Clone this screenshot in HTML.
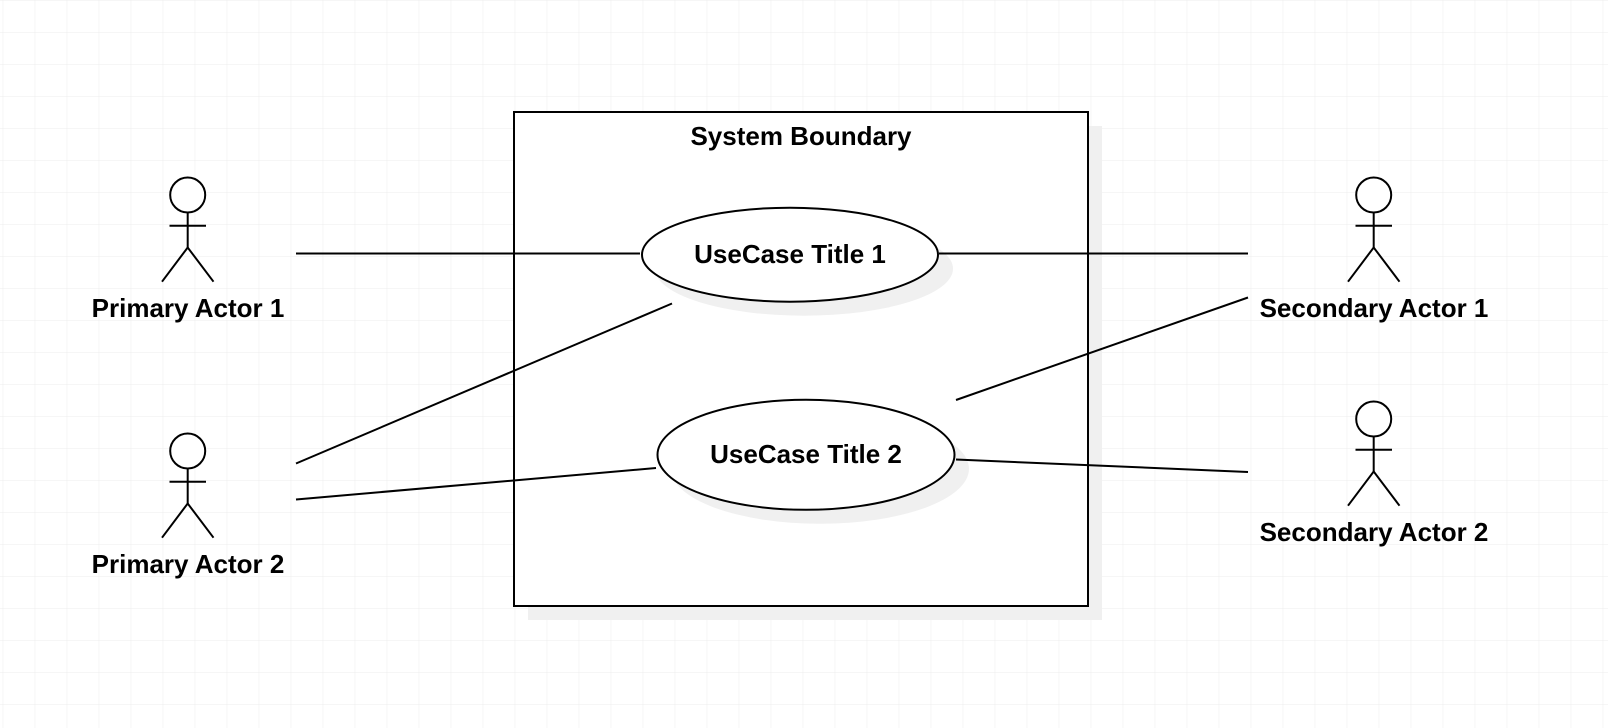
<!DOCTYPE html>
<html><head><meta charset="utf-8"><style>
html,body{margin:0;padding:0;background:#fff;}
svg{display:block;}
text{font-family:"Liberation Sans",Arial,sans-serif;font-weight:bold;font-size:26px;fill:#000;}
</style></head><body>
<svg width="1608" height="728" viewBox="0 0 1608 728" xmlns="http://www.w3.org/2000/svg">
<defs>
<pattern id="g" width="32" height="32" patternUnits="userSpaceOnUse" x="2.7" y="0.3">
<path d="M0 0H32M0 0V32" stroke="#ececec" stroke-width="1" fill="none"/>
</pattern>
</defs>
<rect width="1608" height="728" fill="url(#g)"/>
<!-- system boundary -->
<rect x="528" y="126" width="574" height="494" fill="#f0f0f0"/>
<rect x="514" y="112" width="574" height="494" fill="#fff" stroke="#000" stroke-width="2"/>
<text x="801" y="145" text-anchor="middle">System Boundary</text>
<!-- shadows -->
<ellipse cx="804" cy="268.7" rx="149" ry="47" fill="#f0f0f0"/>
<ellipse cx="820" cy="468.8" rx="149" ry="55" fill="#f0f0f0"/>
<!-- lines -->
<g stroke="#000" stroke-width="2" fill="none">
<line x1="296" y1="253.5" x2="640" y2="253.5"/>
<line x1="939" y1="253.5" x2="1248" y2="253.5"/>
<line x1="296" y1="463.5" x2="672" y2="303.5"/>
<line x1="296" y1="499.5" x2="656" y2="468"/>
<line x1="956" y1="400" x2="1248" y2="297.5"/>
<line x1="956" y1="459.5" x2="1248" y2="472"/>
</g>
<!-- ellipses -->
<ellipse cx="790" cy="254.7" rx="148" ry="47" fill="#fff" stroke="#000" stroke-width="2"/>
<text x="790" y="263" text-anchor="middle">UseCase Title 1</text>
<ellipse cx="806" cy="454.8" rx="148.5" ry="55" fill="#fff" stroke="#000" stroke-width="2"/>
<text x="806" y="463" text-anchor="middle">UseCase Title 2</text>
<!-- actors -->
<g id="a1" stroke="#000" stroke-width="2" fill="#fff">
<ellipse cx="187.7" cy="195" rx="17.5" ry="17.5"/>
<line x1="187.7" y1="212.5" x2="187.7" y2="247.5"/>
<line x1="169.5" y1="225.7" x2="206" y2="225.7"/>
<polyline points="162,281.7 187.7,247.5 213.5,281.7" fill="none"/>
</g>
<text x="188" y="317" text-anchor="middle">Primary Actor 1</text>
<use href="#a1" transform="translate(0,256)"/>
<text x="188" y="573" text-anchor="middle">Primary Actor 2</text>
<use href="#a1" transform="translate(1186,0)"/>
<text x="1374" y="317" text-anchor="middle">Secondary Actor 1</text>
<use href="#a1" transform="translate(1186,224)"/>
<text x="1374" y="541" text-anchor="middle">Secondary Actor 2</text>
</svg>
</body></html>
